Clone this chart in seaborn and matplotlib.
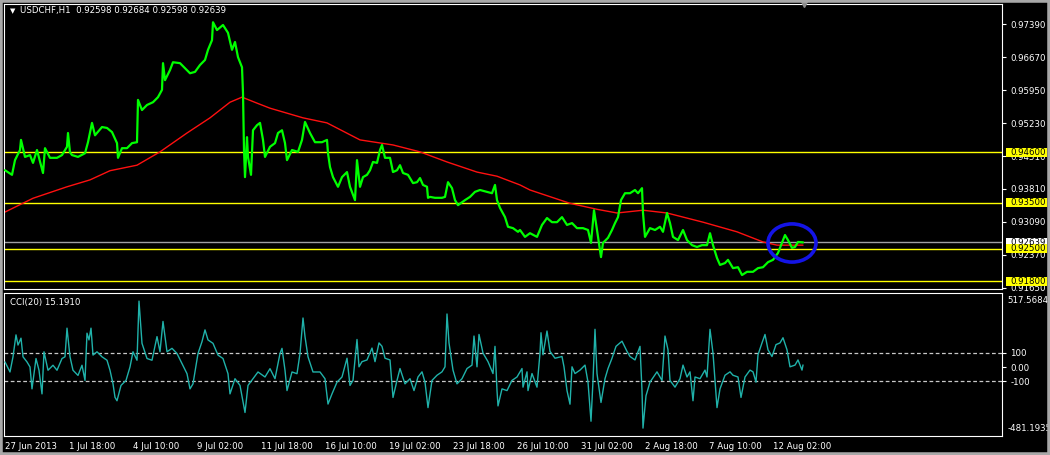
import matplotlib
matplotlib.use("Agg")
import matplotlib.pyplot as plt
import seaborn as sns
import pandas as pd
from matplotlib.patches import Ellipse, Rectangle
from matplotlib.transforms import blended_transform_factory

# ---------------- data ----------------
title_text = "USDCHF,H1  0.92598 0.92684 0.92598 0.92639"
cci_text = "CCI(20) 15.1910"

price_bars = [
    0, 7, 10, 15, 16, 20, 25, 28, 32, 38,
    40, 45, 52, 57, 62, 63, 65, 67, 73, 80,
    83, 87, 90, 97, 102, 107, 112, 113, 117, 122,
    127, 132, 133, 137, 142, 148, 153, 157, 158, 160,
    165, 168, 175, 180, 185, 190, 195, 200, 203, 207,
    208, 212, 218, 223, 227, 230, 233, 237, 238, 239,
    240, 242, 243, 246, 248, 252,
    255, 258, 260, 265, 270, 273, 277, 280, 282, 287,
    293, 297, 300, 305, 310, 317, 322, 323, 325, 328,
    333, 337, 342, 345, 350, 352, 355, 358, 362, 365,
    368, 372, 375, 377, 380, 385, 388, 392, 395, 398,
    403, 408, 412, 415, 418, 422, 423, 425, 430, 437,
    440, 443, 447, 450, 453, 460, 465, 470, 475, 482,
    487, 490, 492, 495, 500, 503, 508, 513,
    515, 520, 525, 532, 537, 542, 547, 552, 557, 562,
    567, 572, 578, 583, 586, 589, 592, 596, 598, 603,
    607, 610, 613, 616, 620, 625, 630, 633, 637, 638,
    640, 645, 650, 655, 658, 662, 665, 668, 673, 678,
    682, 687, 692, 697, 702, 705, 708, 712, 715, 720,
    723, 728, 733, 737, 742, 748, 753, 758, 763, 768,
    773, 777, 780, 783, 787, 790, 793, 798,
]
price_close = [
    0.9421, 0.9411, 0.9443, 0.9465, 0.9487, 0.9450, 0.9454, 0.9437, 0.9465, 0.9415,
    0.9469, 0.9448, 0.9448, 0.9454, 0.9472, 0.9502, 0.9460, 0.9454, 0.9450, 0.9458,
    0.9482, 0.9524, 0.9497, 0.9515, 0.9513, 0.9504, 0.9480, 0.9448, 0.9469, 0.9469,
    0.9480, 0.9482, 0.9574, 0.9552, 0.9563, 0.9569, 0.9580, 0.9596, 0.9654, 0.9617,
    0.9639, 0.9656, 0.9654, 0.9643, 0.9632, 0.9635, 0.9650, 0.9661, 0.9683, 0.9704,
    0.9743, 0.9726, 0.9737, 0.9720, 0.9683, 0.9700, 0.9667, 0.9645, 0.9589, 0.9465,
    0.9406, 0.9493, 0.9450, 0.9411, 0.9508, 0.9519,
    0.9524, 0.9487, 0.9450, 0.9472, 0.9480, 0.9502, 0.9508, 0.9480, 0.9443, 0.9465,
    0.9461, 0.9487, 0.9526, 0.9502, 0.9482, 0.9482, 0.9487, 0.9458, 0.9428, 0.9406,
    0.9385, 0.9406, 0.9417, 0.9385, 0.9356, 0.9443, 0.9385, 0.9406, 0.9411, 0.9421,
    0.9439, 0.9437, 0.9465, 0.9476, 0.9448, 0.9448, 0.9417, 0.9421, 0.9432, 0.9415,
    0.9411, 0.9393, 0.9395, 0.9404, 0.9389, 0.9385, 0.9361, 0.9363, 0.9361, 0.9361,
    0.9363, 0.9395, 0.9382, 0.9356, 0.9345, 0.9356, 0.9363, 0.9374, 0.9378, 0.9374,
    0.9371, 0.9389, 0.9356, 0.9339, 0.9319, 0.9298, 0.9295, 0.9287,
    0.9291, 0.9276, 0.9284, 0.9276, 0.9302, 0.9317, 0.9308, 0.9308, 0.9319, 0.9302,
    0.9306, 0.9295, 0.9295, 0.9291, 0.9263, 0.9334, 0.9291, 0.9232, 0.9263, 0.9274,
    0.9291, 0.9306, 0.9319, 0.9356, 0.9371, 0.9371, 0.9378, 0.9371, 0.9382, 0.9328,
    0.9276, 0.9295, 0.9291, 0.9298, 0.9287, 0.9328, 0.9306, 0.9276, 0.9269, 0.9291,
    0.9269, 0.9258, 0.9254, 0.9258, 0.9258, 0.9284, 0.9258, 0.9230, 0.9215, 0.9219,
    0.9226, 0.9208, 0.9210, 0.9193, 0.9200, 0.9200, 0.9208, 0.9210, 0.9221, 0.9226,
    0.9241, 0.9263, 0.9280, 0.9269, 0.9252, 0.9254, 0.9265, 0.9264,
]

ma_bars = [0, 28, 62, 85, 105, 132, 155, 182, 205, 225, 237, 252, 265, 298, 322, 355,
           388, 415, 442, 472, 492, 515, 525, 565, 592, 612, 638, 662, 698, 732, 758, 772, 798]
ma_values = [0.9330, 0.9360, 0.9385, 0.9400, 0.9420, 0.9432, 0.9461, 0.9502, 0.9535, 0.9569,
             0.9580, 0.9567, 0.9556, 0.9535, 0.9524, 0.9487, 0.9476, 0.9461, 0.9439, 0.9417,
             0.9408, 0.9389, 0.9378, 0.9349, 0.9336, 0.9328, 0.9334, 0.9328, 0.9308, 0.9287,
             0.9265, 0.9258, 0.9258]

cci_bars = [
    0, 5, 8, 11, 13, 16, 18, 22, 25, 27,
    31, 34, 37, 39, 43, 48, 52, 57, 60, 62,
    65, 68, 73, 77, 80, 82, 84, 86, 88, 92,
    97, 102, 105, 108, 110, 112, 116, 121, 125, 128,
    132, 134, 137, 142, 147, 152, 155, 158, 162, 167,
    172, 177, 182, 185, 188, 193, 197, 200, 203, 208,
    213, 218, 223, 225, 230, 235, 240, 243, 248, 253,
    260, 265, 270, 275, 277, 280, 282, 287, 292, 295,
    298, 300, 303, 308, 315, 320, 323, 327, 332, 337,
    342, 345, 348, 352, 354, 357, 362, 367, 370, 374,
    377, 380, 385, 388, 392, 395, 400, 405, 409, 413,
    417, 420, 423, 427, 432, 437, 440, 442, 444, 448,
    452, 457, 462, 467, 469, 472, 474, 478, 483, 488,
    490, 492, 493, 497, 502, 507, 512, 517, 518, 522,
    523, 527, 532, 535, 536, 538, 542, 545, 550, 557,
    559, 562, 565, 567, 570, 575, 580, 583, 586, 588,
    590, 592, 596, 600, 603, 607, 611, 617, 622, 625,
    630, 635, 637, 638, 641, 645, 652, 657, 660, 663,
    665, 670, 675, 678, 682, 685, 688, 690, 695, 700,
    702, 705, 708, 710, 712, 715, 720, 725, 728, 733,
    736, 740, 745, 748, 751, 753, 757, 760, 763, 767,
    771, 775, 778, 782, 785, 790, 793, 797, 798,
]
cci_values = [
    36, -34, 72, 225, 154, 202, 72, 36, 1, -152,
    60, -22, -187, 107, -22, 13, -22, 60, 72, 272,
    72, -22, -58, 13, -93, 237, 190, 272, 84, 107,
    72, 48, -22, -117, -211, -235, -128, -93, 1, 107,
    48, 461, 166, 60, 48, 213, 107, 319, 107, 131,
    95, 25, -46, -152, -117, 95, 178, 260, 190, 166,
    84, 60, -46, -187, -81, -128, -317, -128, -81, -34,
    -69, -11, -81, 95, 131, -22, -164, -34, -46, 95,
    343, 213, 72, -34, -34, -81, -258, -187, -105, -69,
    62, -128, -93, 193, 2, 38, 50, 133, 38, 169,
    145, 62, 50, -212, -93, -10, -117, -81, -164, -69,
    -33, -105, -283, -93, -57, -33, 2, 371, 169, -21,
    -117, -81, -10, 14, 217, 2, 228, 98, 38, -45,
    145, -164, -271, -152, -164, -93, -69, -10, -140, -33,
    -164, -45, -140, 98, 240, 86, 252, 110, 62, 74,
    2, -164, -259, 2, -45, -21, 14, -105, -378, -93,
    264, -45, -247, -81, -10, 62, 145, 181, 110, 74,
    50, 145, -164, -426, -200, -105, -33, -93, 217, 121,
    -93, -140, -81, 14, -69, -33, -235, -69, -81, -21,
    -69, 264, 98, -93, -283, -152, -57, -33, -57, -69,
    -212, -69, -21, -33, -105, 86, 169, 228, 121, 74,
    157, 169, 205, 121, 2, 14, 50, -21, 15,
]

level_lines = [0.94600, 0.93500, 0.92500, 0.91800]
current_price = 0.92639
price_ticks = [0.97390, 0.96670, 0.95950, 0.95230, 0.94510, 0.93810, 0.93090, 0.92370, 0.91650]
price_limits = (0.91626, 0.97827)

cci_levels = [100, -100]
cci_ticks = [100, 0, -100]
cci_tick_labels = ["100", "0.00", "-100"]
cci_max, cci_min = 517.5684, -481.1935

date_ticks = [0, 64, 128, 192, 256, 320, 384, 448, 512, 576, 640, 704, 768]
date_labels = ["27 Jun 2013", "1 Jul 18:00", "4 Jul 10:00", "9 Jul 02:00", "11 Jul 18:00",
               "16 Jul 10:00", "19 Jul 02:00", "23 Jul 18:00", "26 Jul 10:00",
               "31 Jul 02:00", "2 Aug 18:00", "7 Aug 10:00", "12 Aug 02:00"]

circle_center = (787, 0.92627)
circle_size = (48, 0.0083)

assert len(price_bars) == len(price_close)
assert len(ma_bars) == len(ma_values)
assert len(cci_bars) == len(cci_values)

# ---------------- style ----------------
sns.set_theme(style="dark", rc={
    "axes.facecolor": "black", "figure.facecolor": "black",
    "axes.edgecolor": "white", "axes.grid": False,
    "xtick.color": "white", "ytick.color": "white",
    "text.color": "white", "axes.labelcolor": "white",
    "axes.linewidth": 0.8,
})
plt.rcParams["font.family"] = ["DejaVu Sans"]

W, H = 1050, 455
fig = plt.figure(figsize=(W / 100, H / 100), dpi=100)
ax = fig.add_axes([4 / W, 1 - 289 / H, 998 / W, 285 / H])
ax2 = fig.add_axes([4 / W, 1 - 436 / H, 998 / W, 143 / H])

FS = 6.2

# ---------------- price panel ----------------
price_df = pd.DataFrame({"bar": price_bars, "price": price_close})
ma_df = pd.DataFrame({"bar": ma_bars, "ma": ma_values})
for lvl in level_lines:
    ax.axhline(lvl, color="#ffff00", lw=1, zorder=1)
ax.axhline(current_price, color="#a0a0a4", lw=1, zorder=1)
sns.lineplot(data=ma_df, x="bar", y="ma", ax=ax, color="#ff1010", lw=1.0,
             estimator=None, legend=False, zorder=2)
sns.lineplot(data=price_df, x="bar", y="price", ax=ax, color="#00ff00", lw=1.6,
             estimator=None, legend=False, zorder=3)

ax.add_patch(Ellipse(circle_center, circle_size[0], circle_size[1], fill=False,
                     edgecolor="#1414e6", lw=2.6, zorder=4))

ax.set_xlim(-1, 997)
ax.set_ylim(*price_limits)
ax.set_xlabel("")
ax.set_ylabel("")
ax.yaxis.tick_right()
ax.set_yticks(price_ticks)
ax.set_yticklabels([f"{v:.5f}" for v in price_ticks])
ax.tick_params(axis="y", length=3, width=0.8, colors="white", labelsize=FS, pad=3, direction="out")
ax.tick_params(axis="x", bottom=False, labelbottom=False)
for sp in ax.spines.values():
    sp.set_color("white")

tr = blended_transform_factory(ax.transAxes, ax.transData)
box_h = 9 / 285 * (price_limits[1] - price_limits[0])
box_x0 = (1006.5 - 4) / 998
box_w = (1047 - 1006.5) / 998
label_x = (1010 - 4) / 998
box_items = [(current_price, "#ffffff")] + [(lvl, "#ffff00") for lvl in level_lines]
for i, (val, col) in enumerate(box_items):
    ax.add_patch(Rectangle((box_x0, val - box_h / 2), box_w, box_h, transform=tr,
                           facecolor=col, edgecolor="none", clip_on=False, zorder=5 + i))
    ax.text(label_x, val, f"{val:.5f}", transform=tr, color="black", fontsize=FS,
            va="center", ha="left", clip_on=False, zorder=5.5 + i)

# shift marker at top
ax.plot([price_bars[-1] + 1], [1.0], transform=blended_transform_factory(ax.transData, ax.transAxes),
        marker="v", ms=5, color="#8c8c8c", clip_on=False, zorder=6, ls="none")

# ---------------- CCI panel ----------------
cci_df = pd.DataFrame({"bar": cci_bars, "cci": cci_values})
for lvl in cci_levels:
    ax2.axhline(lvl, color="#c8c8c8", lw=0.9, ls=(0, (3, 2)), zorder=1)
sns.lineplot(data=cci_df, x="bar", y="cci", ax=ax2, color="#20b2aa", lw=1.0,
             estimator=None, legend=False, zorder=3)
ax2.set_xlim(-1, 997)
ax2.set_ylim(cci_min, cci_max)
ax2.set_xlabel("")
ax2.set_ylabel("")
ax2.yaxis.tick_right()
ax2.set_yticks(cci_ticks)
ax2.set_yticklabels(cci_tick_labels)
ax2.tick_params(axis="y", length=3, width=0.8, colors="white", labelsize=FS, pad=3, direction="out")
ax2.set_xticks(date_ticks)
ax2.set_xticklabels(date_labels)
ax2.tick_params(axis="x", length=3, width=0.8, colors="white", labelsize=FS, pad=1, direction="out")
for lab in ax2.get_xticklabels():
    lab.set_horizontalalignment("left")
for sp in ax2.spines.values():
    sp.set_color("white")

tr2 = blended_transform_factory(ax2.transAxes, ax2.transData)
ax2.annotate(f"{cci_max:.4f}", xy=(1.0, cci_max), xycoords=tr2, xytext=(4, -2.5),
             textcoords="offset points", va="top", ha="left", fontsize=FS, color="white")
ax2.annotate(f"{cci_min:.4f}", xy=(1.0, cci_min), xycoords=tr2, xytext=(4, 2.5),
             textcoords="offset points", va="bottom", ha="left", fontsize=FS, color="white")

# ---------------- header texts ----------------
fig.text(10 / W, 1 - 11 / H, "\u25BC", fontsize=5, color="white", va="center", ha="left")
fig.text(20 / W, 1 - 11 / H, title_text, fontsize=FS, color="white", va="center", ha="left")
fig.text(10 / W, 1 - 302 / H, cci_text, fontsize=FS, color="white", va="center", ha="left")

# window frame
fig.patches.append(Rectangle((0, 0), 1, 1, transform=fig.transFigure, fill=False,
                             edgecolor="#a8a8a8", lw=4))

fig.savefig("out.png", dpi=100, facecolor="black")
